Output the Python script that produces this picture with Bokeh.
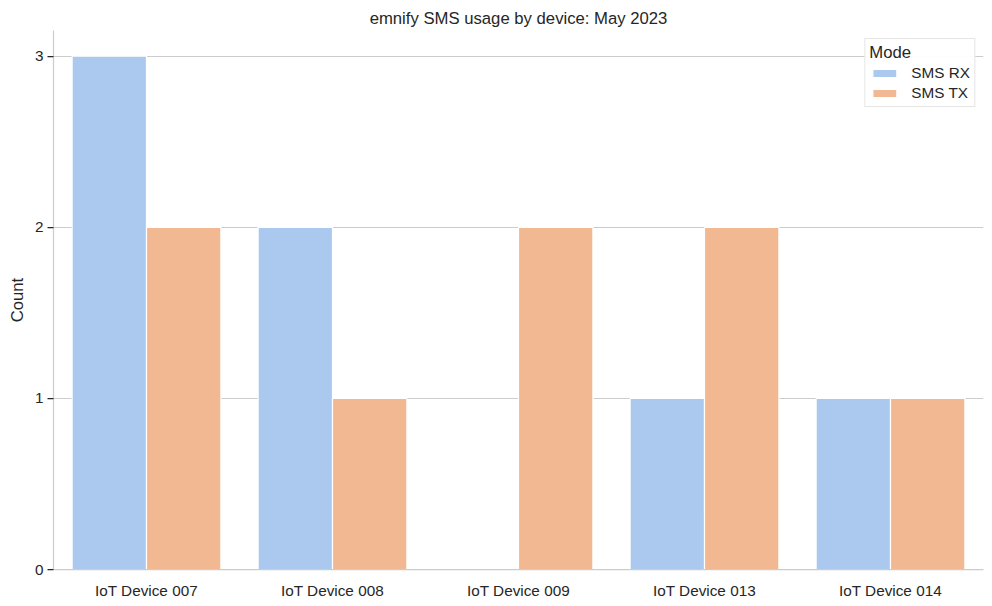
from bokeh.plotting import figure
from bokeh.models import FactorRange, Range1d, Legend, LegendItem, ColumnDataSource, FixedTicker
from bokeh.transform import dodge
from bokeh.embed import file_html
from bokeh.resources import INLINE

devices = ["IoT Device 007", "IoT Device 008", "IoT Device 009", "IoT Device 013", "IoT Device 014"]
sms_rx = [3, 2, 0, 1, 1]
sms_tx = [2, 1, 2, 2, 1]
modes = ["SMS RX", "SMS TX"]
colors = ["#abc9ee", "#f1b892"]
y_ticks = [0, 1, 2, 3]

FONT = "Liberation Sans"
TXT = "#262626"

src = ColumnDataSource(dict(device=devices, rx=sms_rx, tx=sms_tx))

p = figure(width=992, height=606, x_range=FactorRange(factors=devices),
           y_range=Range1d(0, max(sms_rx + sms_tx) * 1.05),
           output_backend="svg", toolbar_location=None,
           min_border_left=53, min_border_right=9, min_border_top=30, min_border_bottom=37)

r1 = p.vbar(x=dodge("device", -0.2, range=p.x_range), top="rx", width=0.4, source=src,
            fill_color=colors[0], line_color="white", line_width=1.2)
r2 = p.vbar(x=dodge("device", 0.2, range=p.x_range), top="tx", width=0.4, source=src,
            fill_color=colors[1], line_color="white", line_width=1.2)

p.title.text = "emnify SMS usage by device: May 2023"
p.title.align = "center"
p.title.text_font = FONT
p.title.text_font_size = "16.7px"
p.title.text_font_style = "normal"
p.title.text_color = TXT
p.title.offset = 0
p.title.standoff = 6

p.outline_line_color = None
p.xgrid.grid_line_color = None
p.ygrid.grid_line_color = "#cccccc"
p.ygrid.grid_line_width = 1

p.yaxis.ticker = FixedTicker(ticks=y_ticks)
p.yaxis.axis_label = "Count"
p.yaxis.axis_label_text_font = FONT
p.yaxis.axis_label_text_font_size = "16.7px"
p.yaxis.axis_label_text_font_style = "normal"
p.yaxis.axis_label_text_color = TXT
p.yaxis.axis_label_standoff = 5

for ax in (p.xaxis[0], p.yaxis[0]):
    ax.axis_line_color = "#cccccc"
    ax.axis_line_width = 1.25
    ax.major_label_text_font = FONT
    ax.major_label_text_font_size = "15.3px"
    ax.major_label_text_color = TXT
    ax.minor_tick_line_color = None
    ax.major_tick_in = 0
    ax.major_tick_out = 6
    ax.major_tick_line_color = TXT
    ax.major_tick_line_width = 1.25

p.xaxis.major_tick_line_color = None
p.xaxis.major_label_standoff = 6
p.yaxis.major_label_standoff = 4

legend = Legend(items=[LegendItem(label=modes[0], renderers=[r1]),
                       LegendItem(label=modes[1], renderers=[r2])],
                location="top_right", title="Mode")
legend.title_text_font = FONT
legend.title_text_font_size = "16.7px"
legend.title_text_font_style = "normal"
legend.title_text_color = TXT
legend.label_text_font = FONT
legend.label_text_font_size = "15.3px"
legend.label_text_color = TXT
legend.border_line_color = "#cccccc"
legend.border_line_width = 1
legend.margin = 8
legend.padding = 4
legend.spacing = 2
legend.glyph_width = 30
legend.glyph_height = 10
legend.label_height = 18
legend.label_standoff = 12
legend.title_standoff = 1
p.add_layout(legend, "center")

open("out.html", "w").write(file_html(p, INLINE))
